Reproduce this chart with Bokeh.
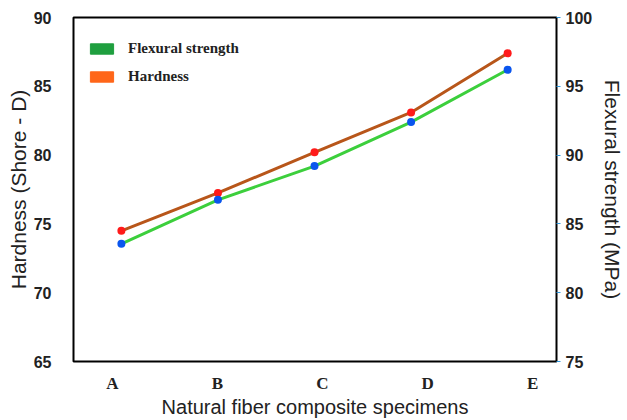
from bokeh.plotting import figure
from bokeh.models import Range1d, LinearAxis, FixedTicker, Legend, LegendItem, ColumnDataSource
from bokeh.embed import file_html
from bokeh.resources import INLINE

specimens = ["A", "B", "C", "D", "E"]
hardness = [74.5, 77.25, 80.2, 83.1, 87.4]
flexural = [83.55, 86.75, 89.2, 92.4, 96.2]
left_ticks = [65, 70, 75, 80, 85, 90]
right_ticks = [75, 80, 85, 90, 95, 100]

xs = list(range(len(specimens)))

p = figure(width=627, height=420, output_backend="svg", toolbar_location=None,
           x_range=Range1d(-0.496, 4.506), y_range=Range1d(65, 90),
           x_axis_type=None, y_axis_type=None,
           min_border_left=73, min_border_right=70, min_border_top=17, min_border_bottom=58)
p.extra_y_ranges = {"flex": Range1d(75, 100)}
p.extra_x_ranges = {"lab": Range1d(-0.3705, 4.228)}
p.xgrid.visible = False
p.ygrid.visible = False
p.outline_line_color = "black"
p.outline_line_width = 2
p.background_fill_color = "white"
p.border_fill_color = "white"

# left axis
ly = LinearAxis(ticker=FixedTicker(ticks=left_ticks), axis_label="Hardness (Shore - D)")
ly.axis_line_color = None
ly.major_tick_line_color = None
ly.minor_tick_line_color = None
ly.major_label_text_font = "Liberation Sans"
ly.major_label_text_font_style = "bold"
ly.major_label_text_font_size = "16px"
ly.major_label_text_color = "#222222"
ly.major_label_standoff = 16
ly.axis_label_text_font = "Liberation Sans"
ly.axis_label_text_font_style = "normal"
ly.axis_label_text_font_size = "21px"
ly.axis_label_text_color = "#222222"
ly.axis_label_standoff = 1
p.add_layout(ly, "left")

# right axis
ry = LinearAxis(y_range_name="flex", ticker=FixedTicker(ticks=right_ticks),
                axis_label="Flexural strength (MPa)")
ry.axis_line_color = None
ry.major_tick_line_color = "#3399dd"
ry.major_tick_out = 4
ry.major_tick_in = 0
ry.minor_tick_line_color = None
ry.major_label_text_font = "Liberation Sans"
ry.major_label_text_font_style = "bold"
ry.major_label_text_font_size = "16px"
ry.major_label_text_color = "#222222"
ry.major_label_standoff = 5
ry.axis_label_text_font = "Liberation Sans"
ry.axis_label_text_font_style = "normal"
ry.axis_label_text_font_size = "21px"
ry.axis_label_text_color = "#222222"
ry.axis_label_standoff = 6
p.add_layout(ry, "right")

# bottom axis
bx = LinearAxis(x_range_name="lab", ticker=FixedTicker(ticks=xs),
                axis_label="Natural fiber composite specimens")
bx.major_label_overrides = {i: s for i, s in zip(xs, specimens)}
bx.axis_line_color = None
bx.major_tick_line_color = None
bx.minor_tick_line_color = None
bx.major_label_text_font = "Liberation Serif"
bx.major_label_text_font_style = "bold"
bx.major_label_text_font_size = "17px"
bx.major_label_text_color = "#222222"
bx.major_label_standoff = 6
bx.axis_label_text_font = "Liberation Sans"
bx.axis_label_text_font_style = "normal"
bx.axis_label_text_font_size = "20px"
bx.axis_label_text_color = "#222222"
bx.axis_label_standoff = 0
p.add_layout(bx, "below")

src_h = ColumnDataSource(dict(x=xs, y=hardness))
src_f = ColumnDataSource(dict(x=xs, y=flexural))

p.line("x", "y", source=src_h, line_color="#b8561a", line_width=3)
p.line("x", "y", source=src_f, y_range_name="flex", line_color="#3ccf3c", line_width=3)
p.scatter("x", "y", source=src_h, size=8, fill_color="#ff1a1a", line_color=None)
p.scatter("x", "y", source=src_f, y_range_name="flex", size=8, fill_color="#0a55ee", line_color=None)

# legend swatches (renderers with no visible data)
nan = float("nan")
empty = ColumnDataSource(dict(l=[nan], r=[nan], t=[nan], b=[nan]))
g1 = p.quad(left="l", right="r", top="t", bottom="b", source=empty,
            fill_color="#1f9f3f", line_color="#1f9f3f")
g2 = p.quad(left="l", right="r", top="t", bottom="b", source=empty,
            fill_color="#ff6619", line_color="#ff6619")
legend = Legend(items=[LegendItem(label="Flexural strength", renderers=[g1]),
                       LegendItem(label="Hardness", renderers=[g2])],
                location=(14, 276))
legend.padding = 4
legend.spacing = 11
legend.glyph_width = 29
legend.glyph_height = 13
legend.label_standoff = 12
legend.label_text_font = "Liberation Serif"
legend.label_text_font_style = "bold"
legend.label_text_font_size = "15px"
legend.label_text_color = "#222222"
legend.background_fill_alpha = 0
legend.border_line_color = None
p.add_layout(legend)

open("out.html", "w").write(file_html(p, INLINE))
